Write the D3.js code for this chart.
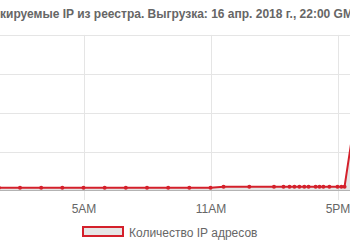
<!DOCTYPE html>
<html><head><meta charset="utf-8">
<script src="https://cdn.jsdelivr.net/npm/d3@7"></script>
<style>
html,body{margin:0;padding:0;background:#fff;overflow:hidden;}
svg{display:block;font-family:"Liberation Sans",Arial,Helvetica,sans-serif;}
</style></head>
<body>
<svg id="c" width="350" height="250"></svg>
<script>
const titleText = "Блокируемые IP из реестра. Выгрузка: 16 апр. 2018 г., 22:00 GMT+3";
const seriesName = "Количество IP адресов";
const times = ["01:00","02:00","03:00","04:00","05:00","06:00","07:00","08:00","09:00","10:00","11:00",
  "11:37","12:50","14:00","14:27","14:44","14:58","15:12","15:26","15:38","15:58","16:09","16:20","16:37",
  "17:00","17:11","17:20","18:00"];
const values = [360000,360000,360000,360000,360000,360000,360000,360000,360000,360000,360000,
  490000,490000,490000,490000,490000,490000,490000,490000,490000,490000,490000,490000,490000,
  490000,490000,490000,12500000];
const yTicks = [0,5000000,10000000,15000000,20000000];
const xTickTimes = ["05:00","11:00","17:00"];

const parse = d3.utcParse("%Y-%m-%d %H:%M");
const toDate = t => parse("2018-04-16 " + t);
const data = times.map((t,i)=>({t:toDate(t), v:values[i]}));

const svg = d3.select("#c");
const red = "#d4202b";
const x = d3.scaleUtc().domain([toDate("05:00"), toDate("17:00")]).range([83.5, 337.5]);
const y = d3.scaleLinear().domain([0, 20000000]).range([190.5, 34.9]);

// horizontal grid
svg.append("g").selectAll("line").data(yTicks.filter(d=>d>0)).join("line")
  .attr("x1",-5).attr("x2",360).attr("y1",d=>Math.round(y(d))+0.5).attr("y2",d=>Math.round(y(d))+0.5)
  .attr("stroke","#e5e5e5").attr("stroke-width",1);

// vertical grid + axis
const xAxis = d3.axisBottom(x).tickValues(xTickTimes.map(toDate))
  .tickFormat(d3.utcFormat("%-I%p")).tickSize(0).tickPadding(14);
const gx = svg.append("g").attr("transform","translate(0,190.5)").call(xAxis);
gx.select(".domain").remove();
gx.selectAll(".tick text").attr("fill","#666").attr("font-size","12px")
  .attr("font-family","'Liberation Sans',Arial,sans-serif");
svg.append("g").selectAll("line").data(xTickTimes.map(toDate)).join("line")
  .attr("x1",d=>Math.round(x(d))+0.5).attr("x2",d=>Math.round(x(d))+0.5)
  .attr("y1",y(20000000)).attr("y2",200)
  .attr("stroke","#e5e5e5").attr("stroke-width",1);

// zero line
svg.append("line").attr("x1",-5).attr("x2",360).attr("y1",190.5).attr("y2",190.5)
  .attr("stroke","#bdbdbd").attr("stroke-width",1);

// area fill
const area = d3.area().x(d=>x(d.t)).y0(y(0)).y1(d=>y(d.v));
svg.append("path").datum(data).attr("d",area).attr("fill","rgba(0,0,0,0.1)");
// line
const line = d3.line().x(d=>x(d.t)).y(d=>y(d.v));
svg.append("path").datum(data).attr("d",line).attr("fill","none")
  .attr("stroke",red).attr("stroke-width",2).attr("stroke-linejoin","round");
// points
svg.append("g").selectAll("circle").data(data).join("circle")
  .attr("cx",d=>x(d.t)).attr("cy",d=>y(d.v)).attr("r",2)
  .attr("fill",red);

// title
const title = svg.append("text").attr("y",18).attr("font-size","12px").attr("font-weight","bold")
  .attr("fill","#666").text(titleText);
const probe = svg.append("text").attr("font-size","12px").attr("font-weight","bold").text("Бло");
const w = probe.node().getComputedTextLength();
probe.remove();
title.attr("x", 0 - w);

// legend
svg.append("rect").attr("x",83).attr("y",227).attr("width",40).attr("height",9)
  .attr("fill","#e6e6e6").attr("stroke",red).attr("stroke-width",2);
svg.append("text").attr("x",129).attr("y",236.5).attr("font-size","12px").attr("fill","#666")
  .text(seriesName);
</script>
</body></html>
